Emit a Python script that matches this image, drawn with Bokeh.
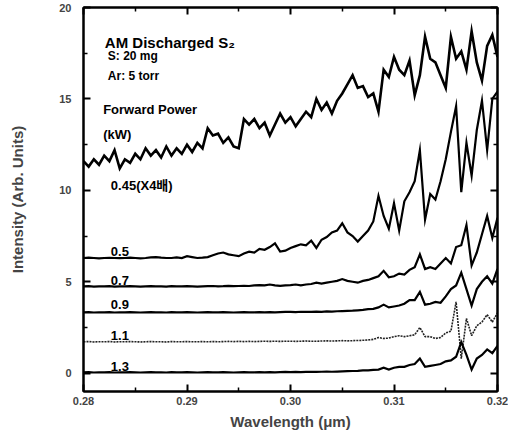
from bokeh.plotting import figure
from bokeh.models import (Range1d, LinearAxis, Label, FixedTicker,
                          PrintfTickFormatter, CustomJSTickFormatter)
from bokeh.embed import file_html
from bokeh.resources import INLINE

# Wavelength sampling grid (um), 0.28 .. 0.32 in steps of 0.0005
wavelength = [round(0.28 + 0.0005 * i, 4) for i in range(81)]

# Forward power 0.45 kW (x4)
power_045_x4 = [11.6, 11.3, 11.7, 11.4, 11.9, 11.6, 12.2, 11.2, 11.7, 11.5,
                12.0, 11.7, 12.3, 11.9, 12.2, 11.8, 12.4, 11.9, 12.3, 12.0,
                12.5, 12.1, 12.6, 12.3, 13.4, 13.0, 13.1, 12.6, 12.9, 12.4,
                12.3, 13.9, 13.6, 13.9, 13.4, 13.7, 13.0, 13.6, 14.2, 13.7,
                14.0, 13.5, 13.9, 14.3, 14.0, 15.0, 14.4, 14.8, 14.2, 14.9,
                15.3, 15.8, 16.3, 15.6, 15.7, 15.1, 15.3, 14.3, 16.6, 16.2,
                17.3, 16.6, 16.3, 17.1, 15.2, 16.3, 18.4, 17.2, 17.0, 16.3,
                15.6, 18.4, 17.2, 17.6, 16.6, 18.7, 17.0, 16.0, 17.9, 18.5,
                17.3]
# Forward power 0.5 kW
power_050 = [6.30, 6.32, 6.30, 6.28, 6.30, 6.31, 6.30, 6.29, 6.30, 6.32,
             6.30, 6.28, 6.30, 6.33, 6.35, 6.32, 6.30, 6.30, 6.33, 6.30,
             6.40, 6.35, 6.30, 6.32, 6.35, 6.45, 6.55, 6.60, 6.50, 6.45,
             6.40, 6.55, 6.65, 6.60, 6.80, 6.75, 6.90, 7.10, 6.65, 6.70,
             6.85, 6.95, 7.05, 7.00, 7.25, 6.85, 7.30, 7.45, 7.70, 7.80,
             8.20, 7.70, 7.50, 7.20, 7.50, 7.80, 8.30, 9.70, 8.60, 7.90,
             9.30, 7.80, 9.40, 9.90, 10.5, 12.2, 8.40, 9.80, 9.50, 10.5,
             11.7, 13.2, 14.6, 9.90, 12.6, 10.8, 13.3, 14.9, 12.2, 15.0,
             15.4]
# Forward power 0.7 kW
power_070 = [4.75, 4.76, 4.74, 4.75, 4.75, 4.76, 4.74, 4.75, 4.75, 4.76,
             4.75, 4.74, 4.75, 4.76, 4.75, 4.75, 4.74, 4.76, 4.75, 4.75,
             4.76, 4.75, 4.74, 4.75, 4.76, 4.77, 4.75, 4.76, 4.78, 4.76,
             4.77, 4.78, 4.77, 4.80, 4.82, 4.80, 4.85, 4.80, 4.78, 4.80,
             4.82, 4.85, 4.80, 4.85, 4.88, 4.95, 4.90, 4.95, 5.00, 5.05,
             5.15, 5.05, 5.00, 4.95, 5.05, 5.10, 5.20, 5.30, 5.60, 5.25,
             5.30, 5.45, 5.40, 5.65, 5.80, 6.50, 5.70, 5.80, 5.70, 6.00,
             6.30, 6.00, 6.90, 7.00, 8.10, 5.90, 6.60, 7.60, 8.60, 7.40,
             8.50]
# Forward power 0.9 kW
power_090 = [3.33, 3.34, 3.32, 3.33, 3.33, 3.34, 3.32, 3.33, 3.33, 3.34,
             3.33, 3.32, 3.33, 3.34, 3.33, 3.33, 3.32, 3.34, 3.33, 3.33,
             3.34, 3.33, 3.32, 3.33, 3.34, 3.33, 3.33, 3.34, 3.33, 3.32,
             3.33, 3.34, 3.33, 3.33, 3.34, 3.33, 3.34, 3.33, 3.34, 3.35,
             3.35, 3.34, 3.36, 3.35, 3.35, 3.37, 3.36, 3.38, 3.37, 3.39,
             3.40, 3.41, 3.42, 3.44, 3.46, 3.50, 3.52, 3.60, 3.75, 3.60,
             3.65, 3.70, 3.80, 4.00, 4.00, 4.45, 3.75, 3.80, 3.90, 3.85,
             4.20, 4.60, 4.80, 5.50, 4.60, 3.70, 4.60, 5.00, 5.30, 4.90,
             5.70]
# Forward power 1.1 kW
power_110 = [1.72, 1.73, 1.71, 1.72, 1.72, 1.73, 1.71, 1.72, 1.72, 1.73,
             1.72, 1.71, 1.72, 1.73, 1.72, 1.72, 1.71, 1.73, 1.72, 1.72,
             1.73, 1.72, 1.72, 1.73, 1.72, 1.73, 1.72, 1.73, 1.74, 1.73,
             1.74, 1.73, 1.74, 1.73, 1.74, 1.75, 1.74, 1.75, 1.74, 1.75,
             1.75, 1.74, 1.75, 1.76, 1.75, 1.75, 1.76, 1.77, 1.76, 1.77,
             1.78, 1.77, 1.78, 1.79, 1.80, 1.82, 1.85, 1.95, 1.90, 1.92,
             2.00, 2.05, 2.00, 2.05, 2.10, 2.50, 2.00, 2.00, 1.90, 1.95,
             2.20, 2.30, 3.90, 0.80, 3.00, 2.05, 2.60, 2.80, 3.20, 2.80,
             3.30]
# Forward power 1.3 kW
power_130 = [0.05, 0.06, 0.04, 0.05, 0.05, 0.06, 0.04, 0.05, 0.05, 0.06,
             0.05, 0.04, 0.05, 0.06, 0.05, 0.05, 0.04, 0.06, 0.05, 0.05,
             0.06, 0.05, 0.04, 0.05, 0.06, 0.05, 0.05, 0.06, 0.05, 0.04,
             0.05, 0.06, 0.05, 0.05, 0.06, 0.05, 0.06, 0.05, 0.06, 0.07,
             0.06, 0.07, 0.06, 0.07, 0.08, 0.07, 0.08, 0.09, 0.08, 0.09,
             0.10, 0.11, 0.12, 0.13, 0.15, 0.16, 0.18, 0.20, 0.30, 0.20,
             0.30, 0.35, 0.35, 0.45, 0.50, 0.80, 0.35, 0.40, 0.45, 0.50,
             0.65, 0.70, 0.90, 1.70, 1.00, 0.20, 0.80, 1.00, 1.30, 1.10,
             1.50]

x_ticks = [0.28, 0.29, 0.30, 0.31, 0.32]
y_ticks = [0, 5, 10, 15, 20]

series_labels = ["0.45(X4배)", "0.5", "0.7", "0.9", "1.1", "1.3"]
label_y = [10.27, 6.67, 5.08, 3.77, 2.08, 0.38]

FONT = "Liberation Sans, Noto Sans CJK KR"

p = figure(width=508, height=432,
           x_range=Range1d(0.28, 0.32), y_range=Range1d(-1, 20),
           output_backend="svg", toolbar_location=None,
           min_border_left=83, min_border_right=11,
           min_border_top=7, min_border_bottom=41,
           x_axis_label="Wavelength (\u03bcm)",
           y_axis_label="Intensity (Arb. Units)")
p.background_fill_color = "white"
p.border_fill_color = "white"
p.xgrid.visible = False
p.ygrid.visible = False
p.outline_line_color = "black"
p.outline_line_width = 2

line_kw = dict(line_color="black", line_join="miter")
p.line(wavelength, power_045_x4, line_width=2.6, **line_kw)
p.line(wavelength, power_050, line_width=2.2, **line_kw)
p.line(wavelength, power_070, line_width=2.2, **line_kw)
p.line(wavelength, power_090, line_width=2.2, **line_kw)
p.line(wavelength, power_110, line_width=1.6, line_color="#222222", line_dash="2 1")
p.line(wavelength, power_130, line_width=2.2, **line_kw)

xt = FixedTicker(ticks=x_ticks, minor_ticks=[0.285, 0.295, 0.305, 0.315])
yt = FixedTicker(ticks=y_ticks, minor_ticks=[2.5, 7.5, 12.5, 17.5])

for ax in p.xaxis:
    ax.ticker = xt
    ax.formatter = PrintfTickFormatter(format="%.2f")
for ax in p.yaxis:
    ax.ticker = yt

blank = CustomJSTickFormatter(code="return '';")
top = LinearAxis(ticker=xt, formatter=blank, major_label_standoff=0)
right = LinearAxis(ticker=yt, formatter=blank, major_label_standoff=0)
p.add_layout(top, "above")
p.add_layout(right, "right")

for ax in list(p.xaxis) + list(p.yaxis):
    ax.axis_line_width = 2
    ax.axis_line_color = "black"
    ax.major_tick_in = 7
    ax.major_tick_out = 0
    ax.minor_tick_in = 4
    ax.minor_tick_out = 0
    ax.major_tick_line_width = 2
    ax.minor_tick_line_width = 1.5
    ax.major_label_text_font = FONT
    ax.major_label_text_font_style = "bold"
    ax.major_label_text_font_size = "11px"
    ax.axis_label_text_font = FONT
    ax.axis_label_text_font_style = "bold"
    ax.axis_label_text_font_size = "15px"

p.xaxis[0].major_label_standoff = 5
p.xaxis[0].axis_label_standoff = 5
p.yaxis[0].major_label_standoff = 12
p.yaxis[0].axis_label_standoff = 30

def add_text(x, y, txt, size, bold=True):
    p.add_layout(Label(x=x, y=y, text=txt, text_font=FONT,
                       text_font_size=size,
                       text_font_style="bold" if bold else "normal",
                       text_baseline="middle", text_align="left",
                       text_color="black"))

add_text(0.28206, 18.09, "AM Discharged S\u2082", "15px")
add_text(0.28235, 17.35, "S: 20 mg", "12px")
add_text(0.28235, 16.25, "Ar: 5 torr", "12px")
add_text(0.28190, 14.40, "Forward Power", "13px")
add_text(0.28190, 13.06, "(kW)", "13px")
for txt, yy in zip(series_labels, label_y):
    add_text(0.28264, yy, txt, "13px")

open("out.html", "w").write(file_html(p, INLINE))
